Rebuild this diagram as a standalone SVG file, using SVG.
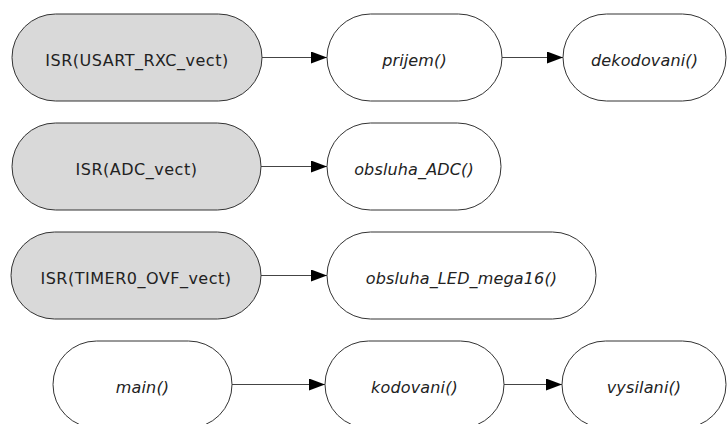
<svg xmlns="http://www.w3.org/2000/svg" width="727" height="424" viewBox="0 0 727 424">
  <style>
    .isr { fill: #d9d9d9; stroke: #333; stroke-width: 1; }
    .fn { fill: #ffffff; stroke: #333; stroke-width: 1; }
    .lbl { font-family: "DejaVu Sans", Verdana, sans-serif; font-size: 16px; fill: #222; text-anchor: middle; letter-spacing: 0.5px; }
    .it { font-style: italic; letter-spacing: 0.15px; }
    .edge { stroke: #444; stroke-width: 1.2; fill: none; marker-end: url(#arrow); }
  </style>
  <defs>
    <marker id="arrow" markerUnits="userSpaceOnUse" markerWidth="17" markerHeight="13" refX="16" refY="6" orient="auto">
      <path d="M0,0 L16,6 L0,12 Z" fill="#000"/>
    </marker>
  </defs>
  <rect width="727" height="424" fill="#fff"/>

  <!-- connectors -->
  <g id="edges">
    <line class="edge" x1="262" y1="57.5" x2="327" y2="57.5"/>
    <line class="edge" x1="502" y1="57.5" x2="563" y2="57.5"/>
    <line class="edge" x1="261" y1="166.5" x2="327" y2="166.5"/>
    <line class="edge" x1="261" y1="275.5" x2="327" y2="275.5"/>
    <line class="edge" x1="232" y1="384.5" x2="325" y2="384.5"/>
    <line class="edge" x1="504" y1="384.5" x2="562" y2="384.5"/>
  </g>

  <!-- row 1: UART receive -->
  <g id="isr-usart">
    <rect class="isr" x="12" y="14" width="250" height="87" rx="43.5"/>
    <text class="lbl" x="137" y="66">ISR(USART_RXC_vect)</text>
  </g>
  <g id="prijem">
    <rect class="fn" x="327" y="14" width="175" height="87" rx="43.5"/>
    <text class="lbl it" x="414.5" y="66">prijem()</text>
  </g>
  <g id="dekodovani">
    <rect class="fn" x="563" y="14" width="163" height="87" rx="43.5"/>
    <text class="lbl it" x="644.5" y="66">dekodovani()</text>
  </g>

  <!-- row 2: ADC -->
  <g id="isr-adc">
    <rect class="isr" x="12" y="123" width="249" height="87" rx="43.5"/>
    <text class="lbl" x="136.5" y="174.5">ISR(ADC_vect)</text>
  </g>
  <g id="obsluha-adc">
    <rect class="fn" x="327" y="123" width="174" height="87" rx="43.5"/>
    <text class="lbl it" x="414" y="174.5">obsluha_ADC()</text>
  </g>

  <!-- row 3: timer -->
  <g id="isr-timer0">
    <rect class="isr" x="11" y="232" width="250" height="87" rx="43.5"/>
    <text class="lbl" x="136" y="283.5">ISR(TIMER0_OVF_vect)</text>
  </g>
  <g id="obsluha-led">
    <rect class="fn" x="327" y="232" width="269" height="87" rx="43.5"/>
    <text class="lbl it" x="461.5" y="283.5">obsluha_LED_mega16()</text>
  </g>

  <!-- row 4: main loop -->
  <g id="main">
    <rect class="fn" x="53" y="341" width="179" height="87" rx="43.5"/>
    <text class="lbl it" x="142.5" y="392.5">main()</text>
  </g>
  <g id="kodovani">
    <rect class="fn" x="325" y="341" width="179" height="87" rx="43.5"/>
    <text class="lbl it" x="414.5" y="392.5">kodovani()</text>
  </g>
  <g id="vysilani">
    <rect class="fn" x="562" y="341" width="164" height="87" rx="43.5"/>
    <text class="lbl it" x="644" y="392.5">vysilani()</text>
  </g>
</svg>
